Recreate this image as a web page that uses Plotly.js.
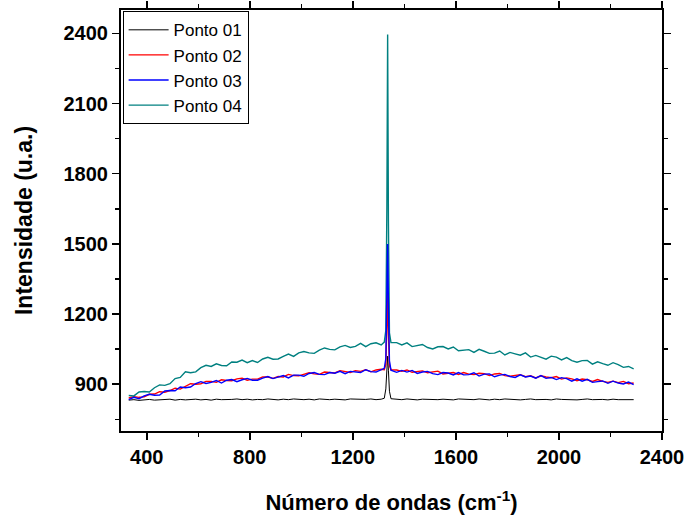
<!DOCTYPE html>
<html>
<head>
<meta charset="utf-8">
<script src="https://cdn.plot.ly/plotly-3.0.1.min.js"></script>
<style>html,body{margin:0;padding:0;background:#fff;}#chart{width:688px;height:519px;}</style>
</head>
<body>
<div id="chart"></div>
<script>
// Wavenumber (cm^-1)
const waveNumber = [
330,350,370,390,410,430,450,470,490,510,530,550,570,590,610,630,650,670,690,710,
730,750,770,790,810,830,850,870,890,910,930,950,970,990,1010,1030,1050,1070,1090,1110,
1130,1150,1170,1190,1210,1230,1250,1270,1290,1310,
1322,1328,1332,1335,1338,1342,1348,
1370,1390,1410,1430,1450,1470,1490,1510,1530,1550,1570,1590,1610,1630,1650,1670,1690,1710,1730,1750,
1770,1790,1810,1830,1850,1870,1890,1910,1930,1950,1970,1990,2010,2030,2050,2070,2090,2110,2130,2150,
2170,2190,2210,2230,2250,2270,2290
];

const ponto01 = [
832,834,831,833,835,832,834,833,836,832,835,833,834,836,833,835,832,836,834,833,
835,837,834,836,833,835,834,837,835,833,836,834,837,835,834,836,833,837,835,834,
836,835,833,837,836,834,835,837,834,836,
840,880,980,1020,960,870,838,
836,834,837,835,833,836,835,837,834,836,835,833,837,835,836,834,837,835,833,836,
834,837,835,836,833,835,837,834,836,835,833,837,835,834,836,833,835,837,834,836,
835,833,836,834,835,833,834
];

const ponto02 = [
841,847,844,846,857,858,868,866,873,883,879,891,902,900,902,912,912,908,919,916,
915,923,926,917,922,922,931,931,925,933,931,942,937,936,944,949,944,942,952,951,
948,958,953,950,958,955,962,953,961,964,
962,985,1150,1300,1120,980,962,
961,955,961,951,955,957,949,953,956,944,948,950,942,950,943,941,947,945,937,944,
946,937,934,938,941,932,936,927,936,931,928,933,922,927,923,915,922,919,912,920,
912,908,913,907,912,902,905
];

const ponto03 = [
834,844,838,850,857,853,854,871,873,872,888,885,888,903,911,903,908,916,905,917,
920,911,919,925,917,917,926,933,924,929,937,927,939,939,934,946,950,942,941,950,
947,955,945,955,954,950,962,954,952,961,
968,1010,1300,1500,1250,1000,960,
951,959,952,959,946,952,955,945,941,950,948,940,950,940,941,949,935,943,944,932,
939,942,933,929,940,931,935,926,937,925,929,920,928,924,913,923,913,921,908,911,
914,904,913,905,901,909,898
];

const ponto04 = [
852,850,867,869,867,885,897,895,902,924,929,953,949,953,971,981,976,987,980,979,
995,994,1003,992,1001,993,1008,1015,1007,1008,1019,1029,1019,1034,1040,1034,1032,1046,1055,1049,
1047,1060,1066,1057,1062,1075,1061,1073,1077,1068,
1080,1130,1650,2395,1600,1120,1078,
1078,1068,1077,1061,1066,1070,1057,1051,1060,1061,1051,1059,1043,1045,1048,1036,1049,1041,1032,1033,
1042,1025,1036,1030,1024,1034,1016,1023,1016,1007,1020,1016,1004,1014,1001,994,1001,1002,986,996,
988,981,992,984,972,976,966
];

const seriesNames = ["Ponto 01", "Ponto 02", "Ponto 03", "Ponto 04"];
const xTickVals = [400, 800, 1200, 1600, 2000, 2400];
const yTickVals = [900, 1200, 1500, 1800, 2100, 2400];

const mk = (y, name, color, rank, w) => ({
  x: waveNumber, y: y, name: name, type: 'scatter', mode: 'lines',
  line: {color: color, width: w}, legendrank: rank
});

// drawing order: black, red, teal, blue (legend order via legendrank)
const data = [
  mk(ponto01, seriesNames[0], '#000000', 1, 1),
  mk(ponto02, seriesNames[1], '#ff0000', 2, 1.4),
  mk(ponto04, seriesNames[3], '#008080', 4, 1.4),
  mk(ponto03, seriesNames[2], '#0000ff', 3, 1.4)
];

const fontFam = 'Arial, "Liberation Sans", sans-serif';
const axisCommon = {
  showline: true, linecolor: '#000', linewidth: 2, mirror: 'ticks',
  ticks: 'outside', ticklen: 7, tickwidth: 1.5, tickcolor: '#000',
  showgrid: false, zeroline: false,
  tickfont: {family: fontFam, size: 20, color: '#000', weight: 'bold'}
};

const layout = {
  width: 688, height: 519,
  margin: {l: 121, r: 26, t: 10, b: 88},
  paper_bgcolor: '#fff', plot_bgcolor: '#fff',
  showlegend: true,
  legend: {
    x: 0.003, y: 0.997, xanchor: 'left', yanchor: 'top',
    bgcolor: '#fff', bordercolor: '#000', borderwidth: 1,
    font: {family: fontFam, size: 17, color: '#000'},
    tracegroupgap: 0, itemwidth: 40
  },
  xaxis: Object.assign({}, axisCommon, {
    range: [300, 2400], tickvals: xTickVals, ticktext: xTickVals.map(String),
    minor: {dtick: 200, tick0: 0, ticks: 'outside', ticklen: 4, tickwidth: 1.5, tickcolor: '#000'},
    title: {text: 'Número de ondas (cm<sup>-1</sup>)', standoff: 28,
      font: {family: fontFam, size: 22, color: '#000', weight: 'bold'}}
  }),
  yaxis: Object.assign({}, axisCommon, {
    range: [700, 2500], tickvals: yTickVals, ticktext: yTickVals.map(String),
    minor: {dtick: 150, tick0: 0, ticks: 'outside', ticklen: 4, tickwidth: 1.5, tickcolor: '#000'},
    title: {text: 'Intensidade (u.a.)', standoff: 24,
      font: {family: fontFam, size: 23, color: '#000', weight: 'bold'}}
  })
};

Plotly.newPlot('chart', data, layout, {displayModeBar: false, staticPlot: true});
</script>
</body>
</html>
